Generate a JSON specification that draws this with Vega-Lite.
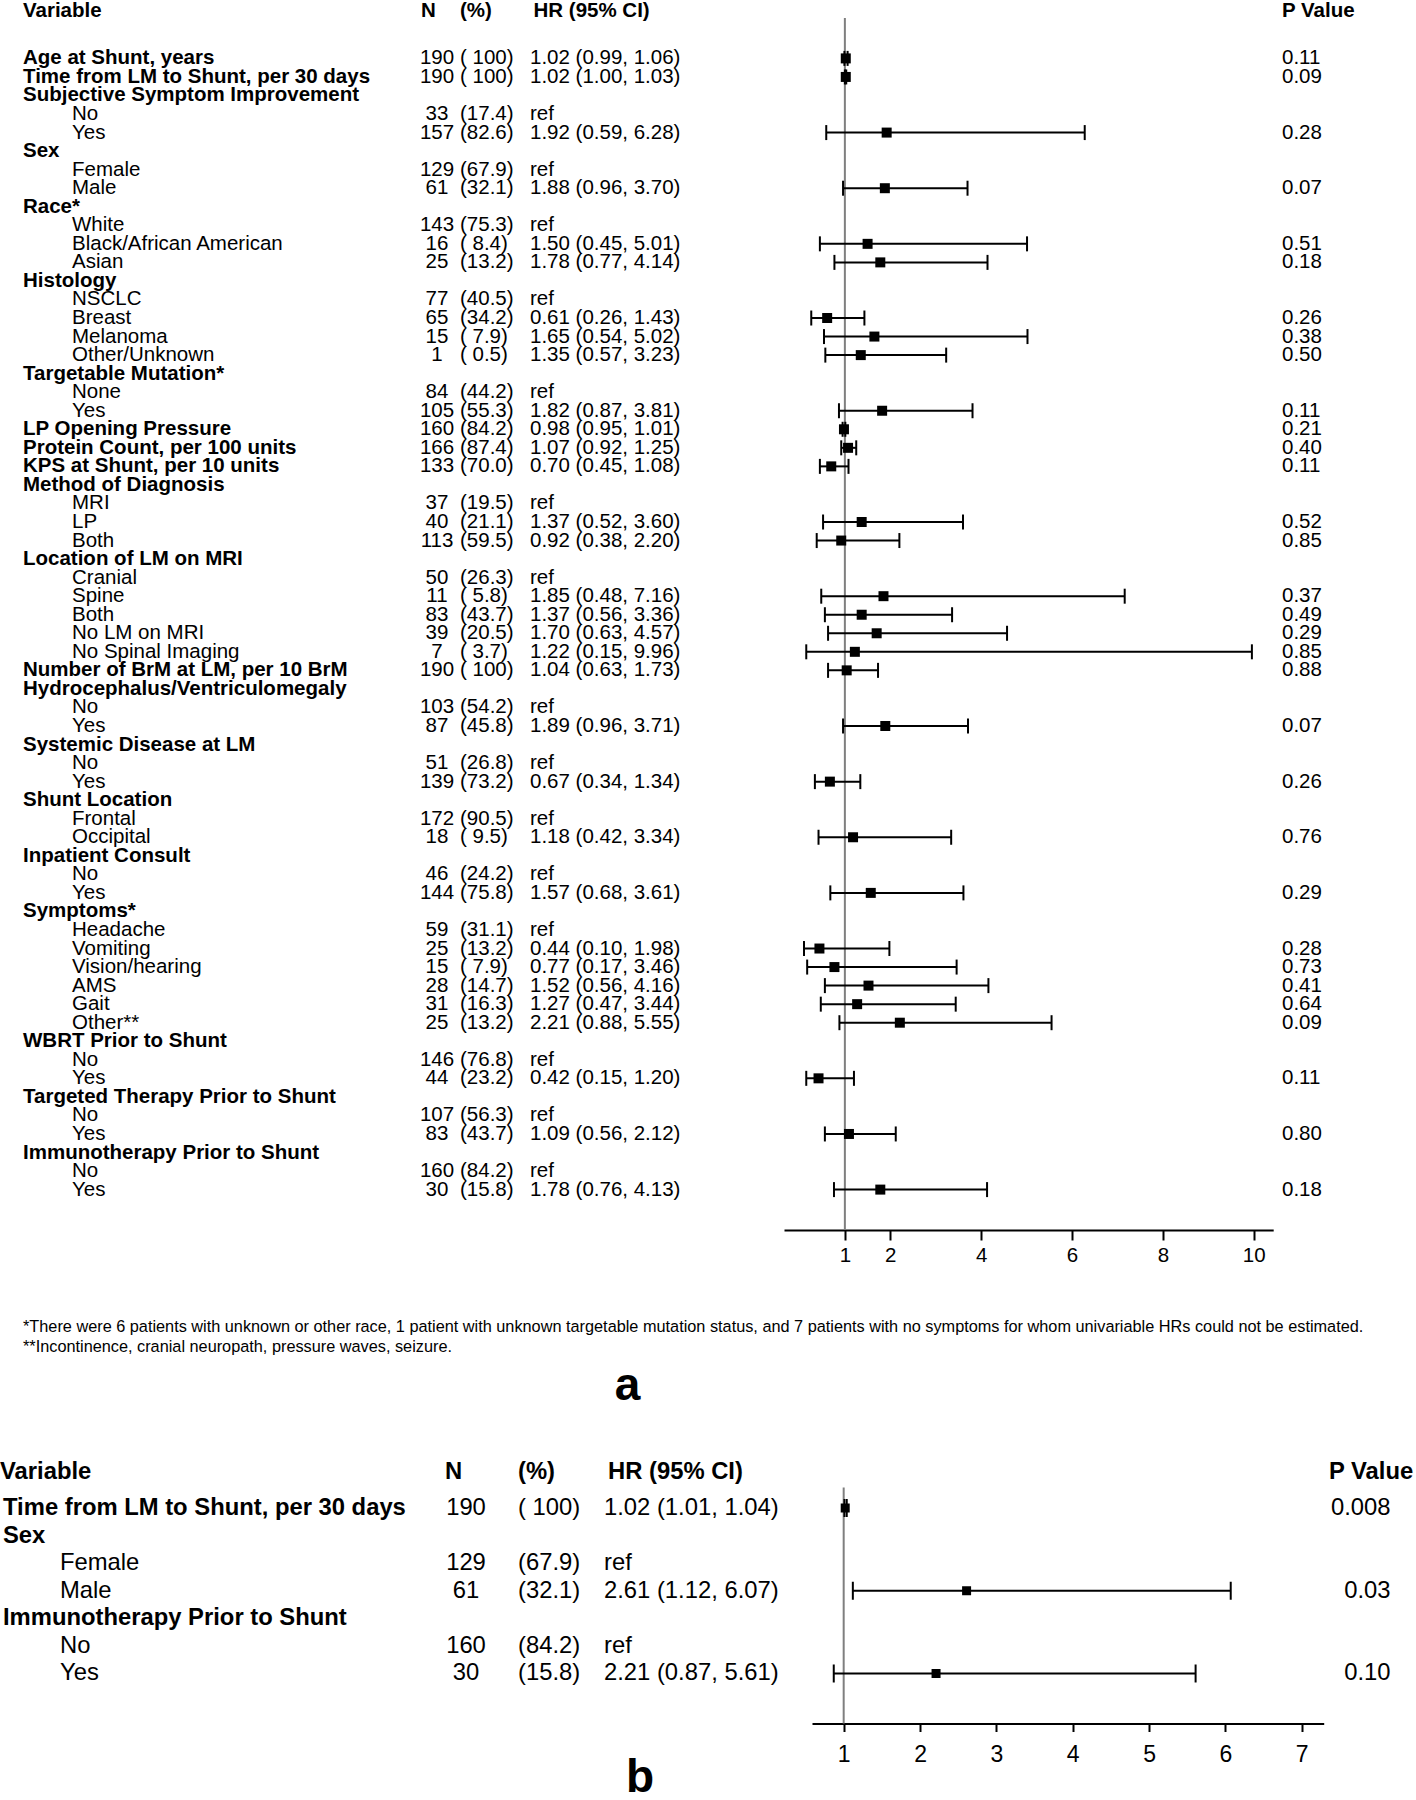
{
  "$schema": "https://vega.github.io/schema/vega-lite/v6.json",
  "padding": 0,
  "background": "white",
  "autosize": {"type": "pad"},
  "config": {
    "view": {"stroke": null},
    "text": {"font": "Liberation Sans", "color": "black", "baseline": "middle"}
  },
  "datasets": {
    "HEAD": [{"var": "Variable", "n": "N", "pct": "(%)", "hrci": "HR (95% CI)", "p": "P Value"}],
    "NOTES": [{"note": "*There were 6 patients with unknown or other race, 1 patient with unknown targetable mutation status, and 7 patients with no symptoms for whom univariable HRs could not be estimated.\n**Incontinence, cranial neuropath, pressure waves, seizure."}],
    "LA": [{"t": "a"}],
    "LB": [{"t": "b"}],
    "A": [
      {"r": 1, "lab": "Age at Shunt, years", "lvl": "h", "n": 190, "pct": "( 100)", "hrci": "1.02 (0.99, 1.06)", "hr": 1.02, "lo": 0.99, "hi": 1.06, "p": "0.11"},
      {"r": 2, "lab": "Time from LM to Shunt, per 30 days", "lvl": "h", "n": 190, "pct": "( 100)", "hrci": "1.02 (1.00, 1.03)", "hr": 1.02, "lo": 1.00, "hi": 1.03, "p": "0.09"},
      {"r": 3, "lab": "Subjective Symptom Improvement", "lvl": "h"},
      {"r": 4, "lab": "No", "lvl": "i", "n": 33, "pct": "(17.4)", "hrci": "ref"},
      {"r": 5, "lab": "Yes", "lvl": "i", "n": 157, "pct": "(82.6)", "hrci": "1.92 (0.59, 6.28)", "hr": 1.92, "lo": 0.59, "hi": 6.28, "p": "0.28"},
      {"r": 6, "lab": "Sex", "lvl": "h"},
      {"r": 7, "lab": "Female", "lvl": "i", "n": 129, "pct": "(67.9)", "hrci": "ref"},
      {"r": 8, "lab": "Male", "lvl": "i", "n": 61, "pct": "(32.1)", "hrci": "1.88 (0.96, 3.70)", "hr": 1.88, "lo": 0.96, "hi": 3.70, "p": "0.07"},
      {"r": 9, "lab": "Race*", "lvl": "h"},
      {"r": 10, "lab": "White", "lvl": "i", "n": 143, "pct": "(75.3)", "hrci": "ref"},
      {"r": 11, "lab": "Black/African American", "lvl": "i", "n": 16, "pct": "( 8.4)", "hrci": "1.50 (0.45, 5.01)", "hr": 1.50, "lo": 0.45, "hi": 5.01, "p": "0.51"},
      {"r": 12, "lab": "Asian", "lvl": "i", "n": 25, "pct": "(13.2)", "hrci": "1.78 (0.77, 4.14)", "hr": 1.78, "lo": 0.77, "hi": 4.14, "p": "0.18"},
      {"r": 13, "lab": "Histology", "lvl": "h"},
      {"r": 14, "lab": "NSCLC", "lvl": "i", "n": 77, "pct": "(40.5)", "hrci": "ref"},
      {"r": 15, "lab": "Breast", "lvl": "i", "n": 65, "pct": "(34.2)", "hrci": "0.61 (0.26, 1.43)", "hr": 0.61, "lo": 0.26, "hi": 1.43, "p": "0.26"},
      {"r": 16, "lab": "Melanoma", "lvl": "i", "n": 15, "pct": "( 7.9)", "hrci": "1.65 (0.54, 5.02)", "hr": 1.65, "lo": 0.54, "hi": 5.02, "p": "0.38"},
      {"r": 17, "lab": "Other/Unknown", "lvl": "i", "n": 1, "pct": "( 0.5)", "hrci": "1.35 (0.57, 3.23)", "hr": 1.35, "lo": 0.57, "hi": 3.23, "p": "0.50"},
      {"r": 18, "lab": "Targetable Mutation*", "lvl": "h"},
      {"r": 19, "lab": "None", "lvl": "i", "n": 84, "pct": "(44.2)", "hrci": "ref"},
      {"r": 20, "lab": "Yes", "lvl": "i", "n": 105, "pct": "(55.3)", "hrci": "1.82 (0.87, 3.81)", "hr": 1.82, "lo": 0.87, "hi": 3.81, "p": "0.11"},
      {"r": 21, "lab": "LP Opening Pressure", "lvl": "h", "n": 160, "pct": "(84.2)", "hrci": "0.98 (0.95, 1.01)", "hr": 0.98, "lo": 0.95, "hi": 1.01, "p": "0.21"},
      {"r": 22, "lab": "Protein Count, per 100 units", "lvl": "h", "n": 166, "pct": "(87.4)", "hrci": "1.07 (0.92, 1.25)", "hr": 1.07, "lo": 0.92, "hi": 1.25, "p": "0.40"},
      {"r": 23, "lab": "KPS at Shunt, per 10 units", "lvl": "h", "n": 133, "pct": "(70.0)", "hrci": "0.70 (0.45, 1.08)", "hr": 0.70, "lo": 0.45, "hi": 1.08, "p": "0.11"},
      {"r": 24, "lab": "Method of Diagnosis", "lvl": "h"},
      {"r": 25, "lab": "MRI", "lvl": "i", "n": 37, "pct": "(19.5)", "hrci": "ref"},
      {"r": 26, "lab": "LP", "lvl": "i", "n": 40, "pct": "(21.1)", "hrci": "1.37 (0.52, 3.60)", "hr": 1.37, "lo": 0.52, "hi": 3.60, "p": "0.52"},
      {"r": 27, "lab": "Both", "lvl": "i", "n": 113, "pct": "(59.5)", "hrci": "0.92 (0.38, 2.20)", "hr": 0.92, "lo": 0.38, "hi": 2.20, "p": "0.85"},
      {"r": 28, "lab": "Location of LM on MRI", "lvl": "h"},
      {"r": 29, "lab": "Cranial", "lvl": "i", "n": 50, "pct": "(26.3)", "hrci": "ref"},
      {"r": 30, "lab": "Spine", "lvl": "i", "n": 11, "pct": "( 5.8)", "hrci": "1.85 (0.48, 7.16)", "hr": 1.85, "lo": 0.48, "hi": 7.16, "p": "0.37"},
      {"r": 31, "lab": "Both", "lvl": "i", "n": 83, "pct": "(43.7)", "hrci": "1.37 (0.56, 3.36)", "hr": 1.37, "lo": 0.56, "hi": 3.36, "p": "0.49"},
      {"r": 32, "lab": "No LM on MRI", "lvl": "i", "n": 39, "pct": "(20.5)", "hrci": "1.70 (0.63, 4.57)", "hr": 1.70, "lo": 0.63, "hi": 4.57, "p": "0.29"},
      {"r": 33, "lab": "No Spinal Imaging", "lvl": "i", "n": 7, "pct": "( 3.7)", "hrci": "1.22 (0.15, 9.96)", "hr": 1.22, "lo": 0.15, "hi": 9.96, "p": "0.85"},
      {"r": 34, "lab": "Number of BrM at LM, per 10 BrM", "lvl": "h", "n": 190, "pct": "( 100)", "hrci": "1.04 (0.63, 1.73)", "hr": 1.04, "lo": 0.63, "hi": 1.73, "p": "0.88"},
      {"r": 35, "lab": "Hydrocephalus/Ventriculomegaly", "lvl": "h"},
      {"r": 36, "lab": "No", "lvl": "i", "n": 103, "pct": "(54.2)", "hrci": "ref"},
      {"r": 37, "lab": "Yes", "lvl": "i", "n": 87, "pct": "(45.8)", "hrci": "1.89 (0.96, 3.71)", "hr": 1.89, "lo": 0.96, "hi": 3.71, "p": "0.07"},
      {"r": 38, "lab": "Systemic Disease at LM", "lvl": "h"},
      {"r": 39, "lab": "No", "lvl": "i", "n": 51, "pct": "(26.8)", "hrci": "ref"},
      {"r": 40, "lab": "Yes", "lvl": "i", "n": 139, "pct": "(73.2)", "hrci": "0.67 (0.34, 1.34)", "hr": 0.67, "lo": 0.34, "hi": 1.34, "p": "0.26"},
      {"r": 41, "lab": "Shunt Location", "lvl": "h"},
      {"r": 42, "lab": "Frontal", "lvl": "i", "n": 172, "pct": "(90.5)", "hrci": "ref"},
      {"r": 43, "lab": "Occipital", "lvl": "i", "n": 18, "pct": "( 9.5)", "hrci": "1.18 (0.42, 3.34)", "hr": 1.18, "lo": 0.42, "hi": 3.34, "p": "0.76"},
      {"r": 44, "lab": "Inpatient Consult", "lvl": "h"},
      {"r": 45, "lab": "No", "lvl": "i", "n": 46, "pct": "(24.2)", "hrci": "ref"},
      {"r": 46, "lab": "Yes", "lvl": "i", "n": 144, "pct": "(75.8)", "hrci": "1.57 (0.68, 3.61)", "hr": 1.57, "lo": 0.68, "hi": 3.61, "p": "0.29"},
      {"r": 47, "lab": "Symptoms*", "lvl": "h"},
      {"r": 48, "lab": "Headache", "lvl": "i", "n": 59, "pct": "(31.1)", "hrci": "ref"},
      {"r": 49, "lab": "Vomiting", "lvl": "i", "n": 25, "pct": "(13.2)", "hrci": "0.44 (0.10, 1.98)", "hr": 0.44, "lo": 0.10, "hi": 1.98, "p": "0.28"},
      {"r": 50, "lab": "Vision/hearing", "lvl": "i", "n": 15, "pct": "( 7.9)", "hrci": "0.77 (0.17, 3.46)", "hr": 0.77, "lo": 0.17, "hi": 3.46, "p": "0.73"},
      {"r": 51, "lab": "AMS", "lvl": "i", "n": 28, "pct": "(14.7)", "hrci": "1.52 (0.56, 4.16)", "hr": 1.52, "lo": 0.56, "hi": 4.16, "p": "0.41"},
      {"r": 52, "lab": "Gait", "lvl": "i", "n": 31, "pct": "(16.3)", "hrci": "1.27 (0.47, 3.44)", "hr": 1.27, "lo": 0.47, "hi": 3.44, "p": "0.64"},
      {"r": 53, "lab": "Other**", "lvl": "i", "n": 25, "pct": "(13.2)", "hrci": "2.21 (0.88, 5.55)", "hr": 2.21, "lo": 0.88, "hi": 5.55, "p": "0.09"},
      {"r": 54, "lab": "WBRT Prior to Shunt", "lvl": "h"},
      {"r": 55, "lab": "No", "lvl": "i", "n": 146, "pct": "(76.8)", "hrci": "ref"},
      {"r": 56, "lab": "Yes", "lvl": "i", "n": 44, "pct": "(23.2)", "hrci": "0.42 (0.15, 1.20)", "hr": 0.42, "lo": 0.15, "hi": 1.20, "p": "0.11"},
      {"r": 57, "lab": "Targeted Therapy Prior to Shunt", "lvl": "h"},
      {"r": 58, "lab": "No", "lvl": "i", "n": 107, "pct": "(56.3)", "hrci": "ref"},
      {"r": 59, "lab": "Yes", "lvl": "i", "n": 83, "pct": "(43.7)", "hrci": "1.09 (0.56, 2.12)", "hr": 1.09, "lo": 0.56, "hi": 2.12, "p": "0.80"},
      {"r": 60, "lab": "Immunotherapy Prior to Shunt", "lvl": "h"},
      {"r": 61, "lab": "No", "lvl": "i", "n": 160, "pct": "(84.2)", "hrci": "ref"},
      {"r": 62, "lab": "Yes", "lvl": "i", "n": 30, "pct": "(15.8)", "hrci": "1.78 (0.76, 4.13)", "hr": 1.78, "lo": 0.76, "hi": 4.13, "p": "0.18"}
    ],
    "B": [
      {"r": 1, "lab": "Time from LM to Shunt, per 30 days", "lvl": "h", "n": 190, "pct": "( 100)", "hrci": "1.02 (1.01, 1.04)", "hr": 1.02, "lo": 1.01, "hi": 1.04, "p": "0.008"},
      {"r": 2, "lab": "Sex", "lvl": "h"},
      {"r": 3, "lab": "Female", "lvl": "i", "n": 129, "pct": "(67.9)", "hrci": "ref"},
      {"r": 4, "lab": "Male", "lvl": "i", "n": 61, "pct": "(32.1)", "hrci": "2.61 (1.12, 6.07)", "hr": 2.61, "lo": 1.12, "hi": 6.07, "p": "0.03"},
      {"r": 5, "lab": "Immunotherapy Prior to Shunt", "lvl": "h"},
      {"r": 6, "lab": "No", "lvl": "i", "n": 160, "pct": "(84.2)", "hrci": "ref"},
      {"r": 7, "lab": "Yes", "lvl": "i", "n": 30, "pct": "(15.8)", "hrci": "2.21 (0.87, 5.61)", "hr": 2.21, "lo": 0.87, "hi": 5.61, "p": "0.10"}
    ]
  },
  "spacing": 49.5,
  "vconcat": [
    {
      "spacing": 0,
      "bounds": "flush",
      "hconcat": [
        {"width": 23, "height": 1212, "data": {"values": []}, "mark": "text"},
        {
          "width": 49, "height": 1212,
          "layer": [
            {"data": {"name": "HEAD"}, "mark": {"type": "text", "align": "left", "fontSize": 20.5, "fontWeight": "bold"},
             "encoding": {"x": {"datum": 0, "type": "quantitative", "scale": {"domain": [0, 1], "nice": false}, "axis": null},
                          "y": {"datum": -1.583, "type": "quantitative", "scale": {"domain": [-1.1786, 64.1786], "reverse": true, "nice": false, "zero": false}, "axis": null},
                          "text": {"field": "var", "type": "nominal"}}},
            {"data": {"name": "A"}, "transform": [{"filter": "datum.lvl == 'h'"}], "mark": {"type": "text", "align": "left", "fontSize": 20.5, "fontWeight": "bold"},
             "encoding": {"x": {"datum": 0, "type": "quantitative", "scale": {"domain": [0, 1], "nice": false}, "axis": null},
                          "y": {"field": "r", "type": "quantitative", "scale": {"domain": [-1.1786, 64.1786], "reverse": true, "nice": false, "zero": false}, "axis": null},
                          "text": {"field": "lab", "type": "nominal"}}},
            {"data": {"name": "NOTES"}, "mark": {"type": "text", "align": "left", "baseline": "top", "fontSize": 16.3, "lineBreak": "\n", "lineHeight": 19.6},
             "encoding": {"x": {"datum": 0, "type": "quantitative", "scale": {"domain": [0, 1], "nice": false}, "axis": null},
                          "y": {"datum": 69.0, "type": "quantitative", "scale": {"domain": [-1.1786, 64.1786], "reverse": true, "nice": false, "zero": false}, "axis": null},
                          "text": {"field": "note", "type": "nominal"}}}
          ]
        },
        {
          "width": 342, "height": 1212,
          "data": {"name": "A"},
          "transform": [{"filter": "datum.lvl == 'i'"}],
          "mark": {"type": "text", "align": "left", "fontSize": 20.5},
          "encoding": {"x": {"datum": 0, "type": "quantitative", "scale": {"domain": [0, 1], "nice": false}, "axis": null},
                       "y": {"field": "r", "type": "quantitative", "scale": {"domain": [-1.1786, 64.1786], "reverse": true, "nice": false, "zero": false}, "axis": null},
                       "text": {"field": "lab", "type": "nominal"}}
        },
        {
          "width": 46, "height": 1212,
          "layer": [
            {"data": {"name": "HEAD"}, "mark": {"type": "text", "align": "left", "dx": 7, "fontSize": 20.5, "fontWeight": "bold"},
             "encoding": {"x": {"datum": 0, "type": "quantitative", "scale": {"domain": [0, 1], "nice": false}, "axis": null},
                          "y": {"datum": -1.583, "type": "quantitative", "scale": {"domain": [-1.1786, 64.1786], "reverse": true, "nice": false, "zero": false}, "axis": null},
                          "text": {"field": "n", "type": "nominal"}}},
            {"data": {"name": "A"}, "transform": [{"filter": "isValid(datum.n)"}], "mark": {"type": "text", "align": "center", "fontSize": 20.5},
             "encoding": {"y": {"field": "r", "type": "quantitative", "scale": {"domain": [-1.1786, 64.1786], "reverse": true, "nice": false, "zero": false}, "axis": null},
                          "text": {"field": "n", "type": "nominal"}}}
          ]
        },
        {
          "width": 69.5, "height": 1212,
          "layer": [
            {"data": {"name": "HEAD"}, "mark": {"type": "text", "align": "left", "fontSize": 20.5, "fontWeight": "bold"},
             "encoding": {"x": {"datum": 0, "type": "quantitative", "scale": {"domain": [0, 1], "nice": false}, "axis": null},
                          "y": {"datum": -1.583, "type": "quantitative", "scale": {"domain": [-1.1786, 64.1786], "reverse": true, "nice": false, "zero": false}, "axis": null},
                          "text": {"field": "pct", "type": "nominal"}}},
            {"data": {"name": "A"}, "transform": [{"filter": "isValid(datum.pct)"}], "mark": {"type": "text", "align": "left", "fontSize": 20.5},
             "encoding": {"x": {"datum": 0, "type": "quantitative", "scale": {"domain": [0, 1], "nice": false}, "axis": null},
                          "y": {"field": "r", "type": "quantitative", "scale": {"domain": [-1.1786, 64.1786], "reverse": true, "nice": false, "zero": false}, "axis": null},
                          "text": {"field": "pct", "type": "nominal"}}}
          ]
        },
        {
          "width": 195, "height": 1212,
          "layer": [
            {"data": {"name": "HEAD"}, "mark": {"type": "text", "align": "left", "dx": 3.5, "fontSize": 20.5, "fontWeight": "bold"},
             "encoding": {"x": {"datum": 0, "type": "quantitative", "scale": {"domain": [0, 1], "nice": false}, "axis": null},
                          "y": {"datum": -1.583, "type": "quantitative", "scale": {"domain": [-1.1786, 64.1786], "reverse": true, "nice": false, "zero": false}, "axis": null},
                          "text": {"field": "hrci", "type": "nominal"}}},
            {"data": {"name": "A"}, "transform": [{"filter": "isValid(datum.hrci)"}], "mark": {"type": "text", "align": "left", "fontSize": 20.5},
             "encoding": {"x": {"datum": 0, "type": "quantitative", "scale": {"domain": [0, 1], "nice": false}, "axis": null},
                          "y": {"field": "r", "type": "quantitative", "scale": {"domain": [-1.1786, 64.1786], "reverse": true, "nice": false, "zero": false}, "axis": null},
                          "text": {"field": "hrci", "type": "nominal"}}},
            {"data": {"name": "LA"}, "mark": {"type": "text", "align": "center", "fontSize": 46, "fontWeight": "bold"},
             "encoding": {"y": {"datum": 72.6, "type": "quantitative", "scale": {"domain": [-1.1786, 64.1786], "reverse": true, "nice": false, "zero": false}, "axis": null},
                          "text": {"field": "t", "type": "nominal"}}}
          ]
        },
        {"width": 58.7, "height": 1212, "data": {"values": []}, "mark": "text"},
        {
          "width": 489.2, "height": 1212,
          "data": {"name": "A"},
          "layer": [
            {"data": {"values": [{}]}, "mark": {"type": "rule", "color": "#7f7f7f", "strokeWidth": 2},
             "encoding": {"x": {"datum": 1, "type": "quantitative", "scale": {"domain": [-0.34, 10.429], "nice": false, "zero": false},
                                "axis": {"values": [1, 2, 4, 6, 8, 10], "format": "d", "title": null, "grid": false, "domainColor": "black", "domainWidth": 2, "tickColor": "black", "tickWidth": 2, "tickSize": 10, "labelFont": "Liberation Sans", "labelFontSize": 20.5, "labelColor": "black", "labelPadding": 5, "labelFlush": false, "labelOverlap": false}}}},
            {"transform": [{"filter": "isValid(datum.lo)"}], "mark": {"type": "rule", "color": "black", "strokeWidth": 2},
             "encoding": {"x": {"field": "lo", "type": "quantitative", "title": null, "scale": {"domain": [-0.34, 10.429], "nice": false, "zero": false},
                                "axis": {"values": [1, 2, 4, 6, 8, 10], "format": "d", "title": null, "grid": false, "domainColor": "black", "domainWidth": 2, "tickColor": "black", "tickWidth": 2, "tickSize": 10, "labelFont": "Liberation Sans", "labelFontSize": 20.5, "labelColor": "black", "labelPadding": 5, "labelFlush": false, "labelOverlap": false}},
                          "x2": {"field": "hi"},
                          "y": {"field": "r", "type": "quantitative", "scale": {"domain": [-1.1786, 64.1786], "reverse": true, "nice": false, "zero": false}, "axis": null}}},
            {"transform": [{"filter": "isValid(datum.lo)"}], "mark": {"type": "tick", "orient": "vertical", "size": 15, "thickness": 2, "color": "black", "opacity": 1},
             "encoding": {"x": {"field": "lo", "type": "quantitative", "title": null},
                          "y": {"field": "r", "type": "quantitative", "scale": {"domain": [-1.1786, 64.1786], "reverse": true, "nice": false, "zero": false}, "axis": null}}},
            {"transform": [{"filter": "isValid(datum.lo)"}], "mark": {"type": "tick", "orient": "vertical", "size": 15, "thickness": 2, "color": "black", "opacity": 1},
             "encoding": {"x": {"field": "hi", "type": "quantitative", "title": null},
                          "y": {"field": "r", "type": "quantitative", "scale": {"domain": [-1.1786, 64.1786], "reverse": true, "nice": false, "zero": false}, "axis": null}}},
            {"transform": [{"filter": "isValid(datum.lo)"}], "mark": {"type": "square", "size": 100, "color": "black", "opacity": 1},
             "encoding": {"x": {"field": "hr", "type": "quantitative", "title": null},
                          "y": {"field": "r", "type": "quantitative", "scale": {"domain": [-1.1786, 64.1786], "reverse": true, "nice": false, "zero": false}, "axis": null}}}
          ]
        },
        {"width": 7.6, "height": 1212, "data": {"values": []}, "mark": "text"},
        {
          "width": 136, "height": 1212,
          "layer": [
            {"data": {"name": "HEAD"}, "mark": {"type": "text", "align": "left", "fontSize": 20.5, "fontWeight": "bold"},
             "encoding": {"x": {"datum": 0, "type": "quantitative", "scale": {"domain": [0, 1], "nice": false}, "axis": null},
                          "y": {"datum": -1.583, "type": "quantitative", "scale": {"domain": [-1.1786, 64.1786], "reverse": true, "nice": false, "zero": false}, "axis": null},
                          "text": {"field": "p", "type": "nominal"}}},
            {"data": {"name": "A"}, "transform": [{"filter": "isValid(datum.p)"}], "mark": {"type": "text", "align": "left", "fontSize": 20.5},
             "encoding": {"x": {"datum": 0, "type": "quantitative", "scale": {"domain": [0, 1], "nice": false}, "axis": null},
                          "y": {"field": "r", "type": "quantitative", "scale": {"domain": [-1.1786, 64.1786], "reverse": true, "nice": false, "zero": false}, "axis": null},
                          "text": {"field": "p", "type": "nominal"}}}
          ]
        }
      ]
    },
    {
      "spacing": 0,
      "bounds": "flush",
      "hconcat": [
        {
          "width": 60, "height": 236,
          "layer": [
            {"data": {"name": "HEAD"}, "mark": {"type": "text", "align": "left", "fontSize": 23.8, "fontWeight": "bold"},
             "encoding": {"x": {"datum": 0, "type": "quantitative", "scale": {"domain": [0, 1], "nice": false}, "axis": null},
                          "y": {"datum": -0.305, "type": "quantitative", "scale": {"domain": [0.2567, 8.813], "reverse": true, "nice": false, "zero": false}, "axis": null},
                          "text": {"field": "var", "type": "nominal"}}},
            {"data": {"name": "B"}, "transform": [{"filter": "datum.lvl == 'h'"}], "mark": {"type": "text", "align": "left", "dx": 3, "fontSize": 23.8, "fontWeight": "bold"},
             "encoding": {"x": {"datum": 0, "type": "quantitative", "scale": {"domain": [0, 1], "nice": false}, "axis": null},
                          "y": {"field": "r", "type": "quantitative", "scale": {"domain": [0.2567, 8.813], "reverse": true, "nice": false, "zero": false}, "axis": null},
                          "text": {"field": "lab", "type": "nominal"}}}
          ]
        },
        {
          "width": 354, "height": 236,
          "data": {"name": "B"},
          "transform": [{"filter": "datum.lvl == 'i'"}],
          "mark": {"type": "text", "align": "left", "fontSize": 23.8},
          "encoding": {"x": {"datum": 0, "type": "quantitative", "scale": {"domain": [0, 1], "nice": false}, "axis": null},
                       "y": {"field": "r", "type": "quantitative", "scale": {"domain": [0.2567, 8.813], "reverse": true, "nice": false, "zero": false}, "axis": null},
                       "text": {"field": "lab", "type": "nominal"}}
        },
        {
          "width": 104, "height": 236,
          "layer": [
            {"data": {"name": "HEAD"}, "mark": {"type": "text", "align": "left", "dx": 31, "fontSize": 23.8, "fontWeight": "bold"},
             "encoding": {"x": {"datum": 0, "type": "quantitative", "scale": {"domain": [0, 1], "nice": false}, "axis": null},
                          "y": {"datum": -0.305, "type": "quantitative", "scale": {"domain": [0.2567, 8.813], "reverse": true, "nice": false, "zero": false}, "axis": null},
                          "text": {"field": "n", "type": "nominal"}}},
            {"data": {"name": "B"}, "transform": [{"filter": "isValid(datum.n)"}], "mark": {"type": "text", "align": "center", "fontSize": 23.8},
             "encoding": {"y": {"field": "r", "type": "quantitative", "scale": {"domain": [0.2567, 8.813], "reverse": true, "nice": false, "zero": false}, "axis": null},
                          "text": {"field": "n", "type": "nominal"}}}
          ]
        },
        {
          "width": 86, "height": 236,
          "layer": [
            {"data": {"name": "HEAD"}, "mark": {"type": "text", "align": "left", "fontSize": 23.8, "fontWeight": "bold"},
             "encoding": {"x": {"datum": 0, "type": "quantitative", "scale": {"domain": [0, 1], "nice": false}, "axis": null},
                          "y": {"datum": -0.305, "type": "quantitative", "scale": {"domain": [0.2567, 8.813], "reverse": true, "nice": false, "zero": false}, "axis": null},
                          "text": {"field": "pct", "type": "nominal"}}},
            {"data": {"name": "B"}, "transform": [{"filter": "isValid(datum.pct)"}], "mark": {"type": "text", "align": "left", "fontSize": 23.8},
             "encoding": {"x": {"datum": 0, "type": "quantitative", "scale": {"domain": [0, 1], "nice": false}, "axis": null},
                          "y": {"field": "r", "type": "quantitative", "scale": {"domain": [0.2567, 8.813], "reverse": true, "nice": false, "zero": false}, "axis": null},
                          "text": {"field": "pct", "type": "nominal"}}}
          ]
        },
        {
          "width": 72, "height": 236,
          "layer": [
            {"data": {"name": "HEAD"}, "mark": {"type": "text", "align": "left", "dx": 4, "fontSize": 23.8, "fontWeight": "bold"},
             "encoding": {"x": {"datum": 0, "type": "quantitative", "scale": {"domain": [0, 1], "nice": false}, "axis": null},
                          "y": {"datum": -0.305, "type": "quantitative", "scale": {"domain": [0.2567, 8.813], "reverse": true, "nice": false, "zero": false}, "axis": null},
                          "text": {"field": "hrci", "type": "nominal"}}},
            {"data": {"name": "B"}, "transform": [{"filter": "isValid(datum.hrci)"}], "mark": {"type": "text", "align": "left", "fontSize": 23.8},
             "encoding": {"x": {"datum": 0, "type": "quantitative", "scale": {"domain": [0, 1], "nice": false}, "axis": null},
                          "y": {"field": "r", "type": "quantitative", "scale": {"domain": [0.2567, 8.813], "reverse": true, "nice": false, "zero": false}, "axis": null},
                          "text": {"field": "hrci", "type": "nominal"}}},
            {"data": {"name": "LB"}, "mark": {"type": "text", "align": "center", "baseline": "bottom", "fontSize": 46, "fontWeight": "bold"},
             "encoding": {"y": {"datum": 11.65, "type": "quantitative", "scale": {"domain": [0.2567, 8.813], "reverse": true, "nice": false, "zero": false}, "axis": null},
                          "text": {"field": "t", "type": "nominal"}}}
          ]
        },
        {"width": 135.8, "height": 236, "data": {"values": []}, "mark": "text"},
        {
          "width": 511.7, "height": 236,
          "data": {"name": "B"},
          "layer": [
            {"data": {"values": [{}]}, "mark": {"type": "rule", "color": "#7f7f7f", "strokeWidth": 2},
             "encoding": {"x": {"datum": 1, "type": "quantitative", "scale": {"domain": [0.585, 7.288], "nice": false, "zero": false},
                                "axis": {"values": [1, 2, 3, 4, 5, 6, 7], "format": "d", "title": null, "grid": false, "domainColor": "black", "domainWidth": 2, "tickColor": "black", "tickWidth": 2, "tickSize": 8, "labelFont": "Liberation Sans", "labelFontSize": 23, "labelColor": "black", "labelPadding": 12, "labelFlush": false, "labelOverlap": false}}}},
            {"transform": [{"filter": "isValid(datum.lo)"}], "mark": {"type": "rule", "color": "black", "strokeWidth": 2},
             "encoding": {"x": {"field": "lo", "type": "quantitative", "title": null, "scale": {"domain": [0.585, 7.288], "nice": false, "zero": false},
                                "axis": {"values": [1, 2, 3, 4, 5, 6, 7], "format": "d", "title": null, "grid": false, "domainColor": "black", "domainWidth": 2, "tickColor": "black", "tickWidth": 2, "tickSize": 8, "labelFont": "Liberation Sans", "labelFontSize": 23, "labelColor": "black", "labelPadding": 12, "labelFlush": false, "labelOverlap": false}},
                          "x2": {"field": "hi"},
                          "y": {"field": "r", "type": "quantitative", "scale": {"domain": [0.2567, 8.813], "reverse": true, "nice": false, "zero": false}, "axis": null}}},
            {"transform": [{"filter": "isValid(datum.lo)"}], "mark": {"type": "tick", "orient": "vertical", "size": 18, "thickness": 2, "color": "black", "opacity": 1},
             "encoding": {"x": {"field": "lo", "type": "quantitative", "title": null},
                          "y": {"field": "r", "type": "quantitative", "scale": {"domain": [0.2567, 8.813], "reverse": true, "nice": false, "zero": false}, "axis": null}}},
            {"transform": [{"filter": "isValid(datum.lo)"}], "mark": {"type": "tick", "orient": "vertical", "size": 18, "thickness": 2, "color": "black", "opacity": 1},
             "encoding": {"x": {"field": "hi", "type": "quantitative", "title": null},
                          "y": {"field": "r", "type": "quantitative", "scale": {"domain": [0.2567, 8.813], "reverse": true, "nice": false, "zero": false}, "axis": null}}},
            {"transform": [{"filter": "isValid(datum.lo)"}], "mark": {"type": "square", "size": 81, "color": "black", "opacity": 1},
             "encoding": {"x": {"field": "hr", "type": "quantitative", "title": null},
                          "y": {"field": "r", "type": "quantitative", "scale": {"domain": [0.2567, 8.813], "reverse": true, "nice": false, "zero": false}, "axis": null}}}
          ]
        },
        {
          "width": 66.5, "height": 236,
          "layer": [
            {"data": {"name": "HEAD"}, "mark": {"type": "text", "align": "left", "dx": 5, "fontSize": 23.8, "fontWeight": "bold"},
             "encoding": {"x": {"datum": 0, "type": "quantitative", "scale": {"domain": [0, 1], "nice": false}, "axis": null},
                          "y": {"datum": -0.305, "type": "quantitative", "scale": {"domain": [0.2567, 8.813], "reverse": true, "nice": false, "zero": false}, "axis": null},
                          "text": {"field": "p", "type": "nominal"}}},
            {"data": {"name": "B"}, "transform": [{"filter": "isValid(datum.p)"}], "mark": {"type": "text", "align": "right", "fontSize": 23.8},
             "encoding": {"x": {"datum": 1, "type": "quantitative", "scale": {"domain": [0, 1], "nice": false}, "axis": null},
                          "y": {"field": "r", "type": "quantitative", "scale": {"domain": [0.2567, 8.813], "reverse": true, "nice": false, "zero": false}, "axis": null},
                          "text": {"field": "p", "type": "nominal"}}}
          ]
        }
      ]
    }
  ]
}
